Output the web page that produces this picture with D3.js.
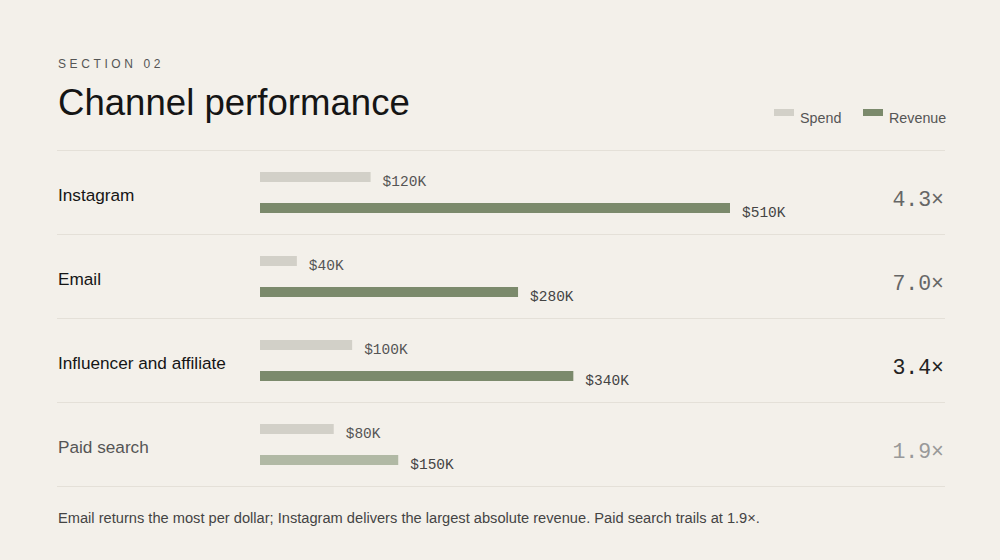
<!DOCTYPE html>
<html>
<head>
<meta charset="utf-8">
<script src="https://cdn.jsdelivr.net/npm/d3@7"></script>
<style>
  html, body { margin: 0; padding: 0; background: #f3f0ea; }
  svg { display: block; }
</style>
</head>
<body>
<svg id="chart" width="1000" height="560"></svg>
<script>
const categories = ["Instagram", "Email", "Influencer and affiliate", "Paid search"];
const spend = [120, 40, 100, 80];      // $K
const revenue = [510, 280, 340, 150];  // $K
const seriesNames = ["Spend", "Revenue"];
const sectionLabel = "SECTION 02";
const titleText = "Channel performance";
const footnote = "Email returns the most per dollar; Instagram delivers the largest absolute revenue. Paid search trails at 1.9×.";

const W = 1000, H = 560;
const left = 58, right = 945;
const rowsTop = 150, rowH = 84;
const barX0 = 260, barX1 = 730;

const svg = d3.select("#chart");
svg.append("rect").attr("width", W).attr("height", H).attr("fill", "#f3f0ea");

const sans = "'Liberation Sans', Arial, Helvetica, sans-serif";
const mono = "'Liberation Mono', 'Courier New', monospace";

svg.append("text").attr("x", left).attr("y", 68)
  .attr("font-family", sans).attr("font-size", 12).attr("letter-spacing", "3.6px")
  .attr("fill", "#555").text(sectionLabel);

svg.append("text").attr("x", left).attr("y", 115)
  .attr("font-family", sans).attr("font-size", 36.6).attr("fill", "#151515")
  .text(titleText);

// Legend
const spendColor = "#d2d0c8", revColor = "#7b8a6c", revMuted = "#b1b9a5";
const legendX = [774, 863];
const legendColors = [spendColor, revColor];
const lg = svg.append("g");
seriesNames.forEach((name, i) => {
  lg.append("rect").attr("x", legendX[i]).attr("y", 109).attr("width", 20).attr("height", 7)
    .attr("fill", legendColors[i]);
  lg.append("text").attr("x", legendX[i] + 26).attr("y", 123)
    .attr("font-family", sans).attr("font-size", 14.3).attr("fill", "#555").text(name);
});

const x = d3.scaleLinear().domain([0, d3.max(revenue)]).range([barX0, barX1]);
const y = d3.scaleBand().domain(categories).range([rowsTop, rowsTop + rowH * categories.length]).padding(0);

const fmtK = v => "$" + v + "K";
const fmtR = d3.format(".1f");

// separators
const seps = d3.range(categories.length + 1).map(i => rowsTop + i * rowH);
svg.append("g").selectAll("line").data(seps).join("line")
  .attr("x1", left - 1).attr("x2", right).attr("y1", d => d + 0.5).attr("y2", d => d + 0.5)
  .attr("stroke", "#e4e0d8").attr("stroke-width", 1);

const labelColors = ["#151515", "#151515", "#151515", "#555"];
const ratioColors = ["#666", "#666", "#222", "#999"];

const rows = svg.append("g").selectAll("g").data(categories).join("g")
  .attr("transform", d => `translate(0,${y(d)})`);

rows.append("text").attr("x", left).attr("y", 51)
  .attr("font-family", sans).attr("font-size", 17.2)
  .attr("fill", (d, i) => labelColors[i]).text(d => d);

rows.append("rect").attr("x", x(0)).attr("y", 22).attr("height", 10)
  .attr("width", (d, i) => x(spend[i]) - x(0)).attr("fill", spendColor);
rows.append("text").attr("x", (d, i) => x(spend[i]) + 12).attr("y", 36)
  .attr("font-family", mono).attr("font-size", 14.5).attr("fill", "#555")
  .text((d, i) => fmtK(spend[i]));

rows.append("rect").attr("x", x(0)).attr("y", 53).attr("height", 10)
  .attr("width", (d, i) => x(revenue[i]) - x(0))
  .attr("fill", (d, i) => i === categories.length - 1 ? revMuted : revColor);
rows.append("text").attr("x", (d, i) => x(revenue[i]) + 12).attr("y", 67)
  .attr("font-family", mono).attr("font-size", 14.5).attr("fill", "#444")
  .text((d, i) => fmtK(revenue[i]));

rows.append("text").attr("x", right - 1).attr("y", 56).attr("text-anchor", "end")
  .attr("font-family", mono).attr("font-size", 21.5)
  .attr("fill", (d, i) => ratioColors[i])
  .text((d, i) => fmtR(revenue[i] / spend[i]) + "×");

svg.append("text").attr("x", left).attr("y", 523)
  .attr("font-family", sans).attr("font-size", 14.65).attr("fill", "#444")
  .text(footnote);
</script>
</body>
</html>
